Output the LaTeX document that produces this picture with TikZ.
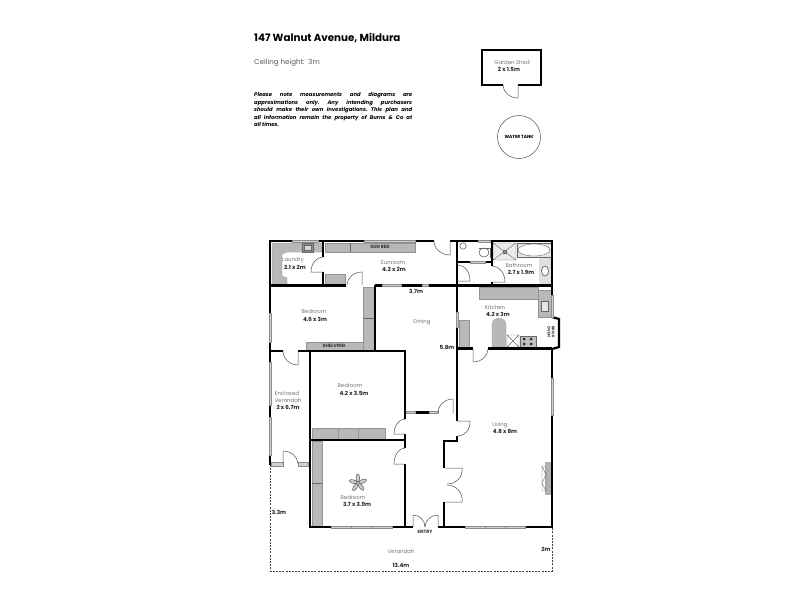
\documentclass[tikz,border=0pt]{standalone}
\usepackage{fontspec}
\setmainfont{Poppins}
\usetikzlibrary{calc}
\tikzset{
 x=1pt,y=-1pt,
 wall/.style={line width=2.2pt,black,line cap=butt},
 win/.style={draw=black!45,fill=black!18,line width=.3pt},
 cab/.style={draw=black!42,fill=black!28,line width=.3pt},
 fix/.style={draw=black!60,line width=.4pt},
 swing/.style={draw=black!70,line width=.5pt},
 rname/.style={font=\fontsize{5.4}{6}\selectfont,text=black!55,inner sep=0pt},
 rsize/.style={font=\fontsize{5.6}{6}\bfseries\selectfont,text=black!85,inner sep=0pt},
 dim/.style={font=\fontsize{5.6}{6}\bfseries\selectfont,text=black!85,inner sep=0pt},
 lab/.style={font=\fontsize{4.6}{5}\bfseries\selectfont,text=black!80,inner sep=0pt},
 dash line/.style={draw=black!75,line width=.8pt,dash pattern=on 2pt off 1.2pt},
}
% hinge, end of leaf, end of arc
\newcommand\doorswing[3]{\draw[swing] (#1) -- (#2) .. controls ($(#2)+0.55*(#3)-0.55*(#1)$) and ($(#3)+0.55*(#2)-0.55*(#1)$) .. (#3);}
\begin{document}
\begin{tikzpicture}
\useasboundingbox (0,0) rectangle (800,600);
% header
\node[anchor=west,inner sep=0pt,font=\fontsize{10.3}{11}\bfseries\selectfont] (title) at (254,38) {147 Walnut Avenue, Mildura};
\node[anchor=west,inner sep=0pt,font=\fontsize{7.1}{8}\selectfont,text=black!65] (ceil) at (254,62.5) {Ceiling height:\ \ 3m};
\node[anchor=north west,inner sep=0pt,text width=158pt,align=justify,font=\fontsize{5.3}{7.4}\itshape\bfseries\selectfont] (note) at (254,92.5) {\frenchspacing Please note measurements and diagrams are\linebreak approximations only. Any intending purchasers\linebreak should make their own investigations. This plan and\linebreak all information remain the property of Burns \& Co at\linebreak all times.};
% shed
\draw[wall,line width=2pt] (503,85) -- (482,85) -- (482,50) -- (541,50) -- (541,85) -- (518,85);
\doorswing{518,85}{518,98}{503,85}
\node[rname] (shedn) at (512,62.7) {Garden Shed};
\node[rsize] (sheds) at (509,69) {2 x 1.5m};
\node[circle,draw=black!70,line width=.5pt,minimum size=43pt,inner sep=0pt,font=\fontsize{4.4}{5}\bfseries\selectfont] (tank) at (519,137) {WATER TANK};
% verandah
\draw[dash line] (270,465) -- (270,571) -- (552,571) -- (552,527);
% fixtures: cabinets
\path[cab] (272,243) -- (323,243) -- (323,252) -- (287,252) -- (282,254) -- (282,276) -- (287,278) -- (287,285) -- (272,285) -- cycle;
\draw[fix,fill=black!45] (302,243) rectangle (313,252);
\draw[fix,fill=black!15] (304.5,245) rectangle (311,250.5);
\path[cab] (325,243) rectangle (415,252);
\draw[fix] (350,243) -- (350,252);
\path[cab] (325,274) rectangle (345,284.5);
\path[cab] (306,342) rectangle (363,350);
\path[cab] (363,287) rectangle (374,350);
\draw[fix] (363,318) -- (374,318);
\path[cab] (312,428) rectangle (338,439);
\path[cab] (338,428) rectangle (358,439);
\path[cab] (358,428) rectangle (385,439);
\path[cab] (312,441) rectangle (322,527);
\draw[fix] (312,483) -- (322,483);
% kitchen
\path[cab] (479,287) rectangle (538,299);
\path[cab] (538,290) rectangle (551,317);
\draw[fix,fill=black!10] (541,301) rectangle (548,311);
\path[cab] (459,320) rectangle (469,347);
\path[cab] (492,347) -- (492,325) .. controls (492,316) and (506,316) .. (506,325) -- (506,347) -- cycle;
\draw[fix,fill=white] (507,335) rectangle (519,347) (507,335) -- (519,347) (519,335) -- (507,347);
\draw[fix,fill=black!25] (520,336) rectangle (536,347);
\foreach \cx/\cy in {524/339,531/339,524/344,531/344}{\fill[black!85] (\cx,\cy) circle[radius=1.5pt];}
% bathroom
\draw[fix,fill=black!8] (493,243) rectangle (516,260) (493,243) -- (516,260) (516,243) -- (493,260);
\draw[fix,fill=black!45] (503,250) rectangle (506,253);
\draw[fix,fill=black!10] (517,243) rectangle (551,257);
\draw[fix,fill=white] (534,250) ellipse[x radius=16,y radius=6];
\fill[black!12] (539,258) rectangle (551,284);
\draw[fix,line width=.7pt,fill=white] (545,271) ellipse[x radius=3.5,y radius=5];
\draw[fix,line width=.6pt] (463,246) circle[radius=3.2];
\draw[fix,line width=.8pt] (479,248) -- (490,248) -- (490,258);
\draw[fix,line width=.6pt] (484,252.5) ellipse[x radius=5,y radius=4.5];
% fireplace
\fill[black!30] (545,462) rectangle (551,495);
\draw[fix] (542,466) -- (546,466) -- (546,491) -- (542,491) -- cycle (542,466) -- (546,475) -- (542,483) -- (546,491);
% walls
\draw[wall] (318,241) -- (364,241);
\draw[wall] (415,241) -- (434,241);
\draw[wall] (450,241) -- (478,241);
\draw[wall] (490,241) -- (553.1,241);
\draw[wall] (270,240) -- (270,313);
\draw[wall] (270,342) -- (270,362);
\draw[wall] (270,405) -- (270,417);
\draw[wall] (270,455) -- (270,465);
\draw[wall] (269,241) -- (292,241);
\draw[wall] (323,241) -- (323,257) (323,272) -- (323,286);
\draw[wall] (270,285.5) -- (346,285.5);
\draw[wall] (375,284.5) -- (375,351);
\draw[wall] (375,285.5) -- (382,285.5);
\draw[wall] (401,285.5) -- (422,285.5);
\draw[wall] (428,285.5) -- (552,285.5);
\draw[wall] (270,351) -- (283,351);
\draw[wall] (298,351) -- (406,351);
\draw[wall] (310,351) -- (310,528);
\draw[wall] (405,351) -- (405,419);
\draw[wall] (405,434) -- (405,448);
\draw[wall] (405,464) -- (405,527);
\draw[wall] (310,440) -- (405,440);
\draw[wall] (406,412.5) -- (438,412.5);
\draw[wall] (457,241) -- (457,312);
\draw[wall] (457,327) -- (457,421);
\draw[wall] (457,436) -- (457,442);
\draw[wall] (458,441) -- (444,441) -- (444,468);
\draw[wall] (444,502) -- (444,527);
\draw[wall] (309,527) -- (331,527);
\draw[wall] (392,527) -- (413,527);
\draw[wall] (438,527) -- (465,527);
\draw[wall] (525,527) -- (553.1,527);
\draw[wall] (457,348.5) -- (473,348.5);
\draw[wall] (488,348.5) -- (552,348.5);
\draw[wall] (552,241) -- (552,295);
\draw[wall,line join=miter] (552,317) -- (559,319) -- (559,347) -- (552,349);
\draw[wall] (552,348) -- (552,378) (552,415) -- (552,528);
\draw[wall] (457,262) -- (470,262);
\draw[wall] (485,262) -- (493,262);
\draw[wall] (492,241) -- (492,266);
\draw[wall] (492,282) -- (492,285);
\draw[wall] (308,464.5) -- (311,464.5);
% windows
\draw[win] (292,240) rectangle (318,242);
\draw[win] (364,240) rectangle (415,242);
\draw[win] (478,240) rectangle (490,242);
\draw[win] (269,313) rectangle (271,342);
\draw[win] (269,362) rectangle (271,405);
\draw[win] (269,417) rectangle (271,455);
\draw[win] (271,462.5) rectangle (283,466);
\draw[win] (298,462.5) rectangle (308,466);
\draw[win] (382,284.5) rectangle (401,286.5);
\draw[win] (422,284.5) rectangle (428,286.5);
\draw[win] (470,261) rectangle (485,263);
\draw[win] (406,411.5) rectangle (415,413.5);
\draw[win] (429,411.5) rectangle (438,413.5);
\draw[win] (456,312) rectangle (458,327);
\draw[win] (551,295) rectangle (553,317);
\draw[win] (551,378) rectangle (553,415);
\draw[win] (331,526) rectangle (351,528);
\draw[win] (351,526) rectangle (372,528);
\draw[win] (372,526) rectangle (392,528);
\draw[win] (465,526) rectangle (485,528);
\draw[win] (485,526) rectangle (505,528);
\draw[win] (505,526) rectangle (525,528);
% doors
\doorswing{323,272}{311,272}{323,257}
\doorswing{362,285}{362,272}{347,285}
\doorswing{450,241}{450,255}{434,241}
\doorswing{458,281}{470,281}{458,265}
\doorswing{492,282}{505,282}{492,266}
\doorswing{473,349}{473,362}{488,349}
\doorswing{298,351}{298,365}{283,351}
\doorswing{283,464}{283,451}{298,464}
\doorswing{405,434}{394,434}{405,419}
\doorswing{405,464}{394,464}{405,448}
\doorswing{453,413}{453,399}{438,413}
\doorswing{457,421}{470,421}{458,436}
\doorswing{445,468}{462,468}{447,484}
\doorswing{445,502}{462,502}{447,485}
\doorswing{413,527}{413,515}{425,527}
\doorswing{438,527}{438,515}{425,527}
% ceiling fan
\foreach \a in {20,92,164,236,308}{
 \draw[fix,line width=.6pt,fill=black!18,rotate around={\a:(358,483)}] (363,483) ellipse[x radius=4,y radius=1.8];
}
\draw[fix,fill=white] (358,483) circle[radius=1.5];
% labels
\node[rname] (n1) at (293,260) {Laundry};
\node[rsize] (s1) at (295,267) {2.1 x 2m};
\node[rname] (n2) at (393,262.7) {Sunroom};
\node[rsize] (s2) at (394,269) {4.3 x 2m};
\node[lab] (sb) at (380,247) {SUN BED};
\node[rname] (n3) at (314,312) {Bedroom};
\node[rsize] (s3) at (315,319) {4.6 x 3m};
\node[lab] (sh) at (334,346) {SHELVING};
\node[dim] (d1) at (416,291) {3.7m};
\node[rname] (n4) at (422,322) {Dining};
\node[dim] (d2) at (447,347) {5.8m};
\node[rname] (n5) at (495,307) {Kitchen};
\node[rsize] (s5) at (498,314) {4.2 x 3m};
\node[rname] (n6) at (519,266) {Bathroom};
\node[rsize] (s6) at (521,272) {2.7 x 1.9m};
\node[lab,rotate=-90,align=center,font=\fontsize{3.7}{4.2}\bfseries\selectfont] (bk) at (551,332) {BRICK\\OVEN};
\node[rname] (n7) at (350,386) {Bedroom};
\node[rsize] (s7) at (354,393) {4.2 x 3.5m};
\node[rname] (n8) at (287,394) {Enclosed};
\node[rname] (n8b) at (288,400.5) {Verandah};
\node[rsize] (s8) at (288,407) {2 x 6.7m};
\node[rname] (n9) at (500,425) {Living};
\node[rsize] (s9) at (505,431) {4.8 x 8m};
\node[rname] (n10) at (353,497.5) {Bedroom};
\node[rsize] (s10) at (357,504) {3.7 x 3.9m};
\node[dim] (d3) at (279,512) {3.3m};
\node[rname] (n11) at (401,552) {Verandah};
\node[dim] (d4) at (401,565) {13.4m};
\node[dim] (d5) at (546,549) {2m};
\node[lab] (en) at (425,531.5) {ENTRY};
\end{tikzpicture}
\end{document}
